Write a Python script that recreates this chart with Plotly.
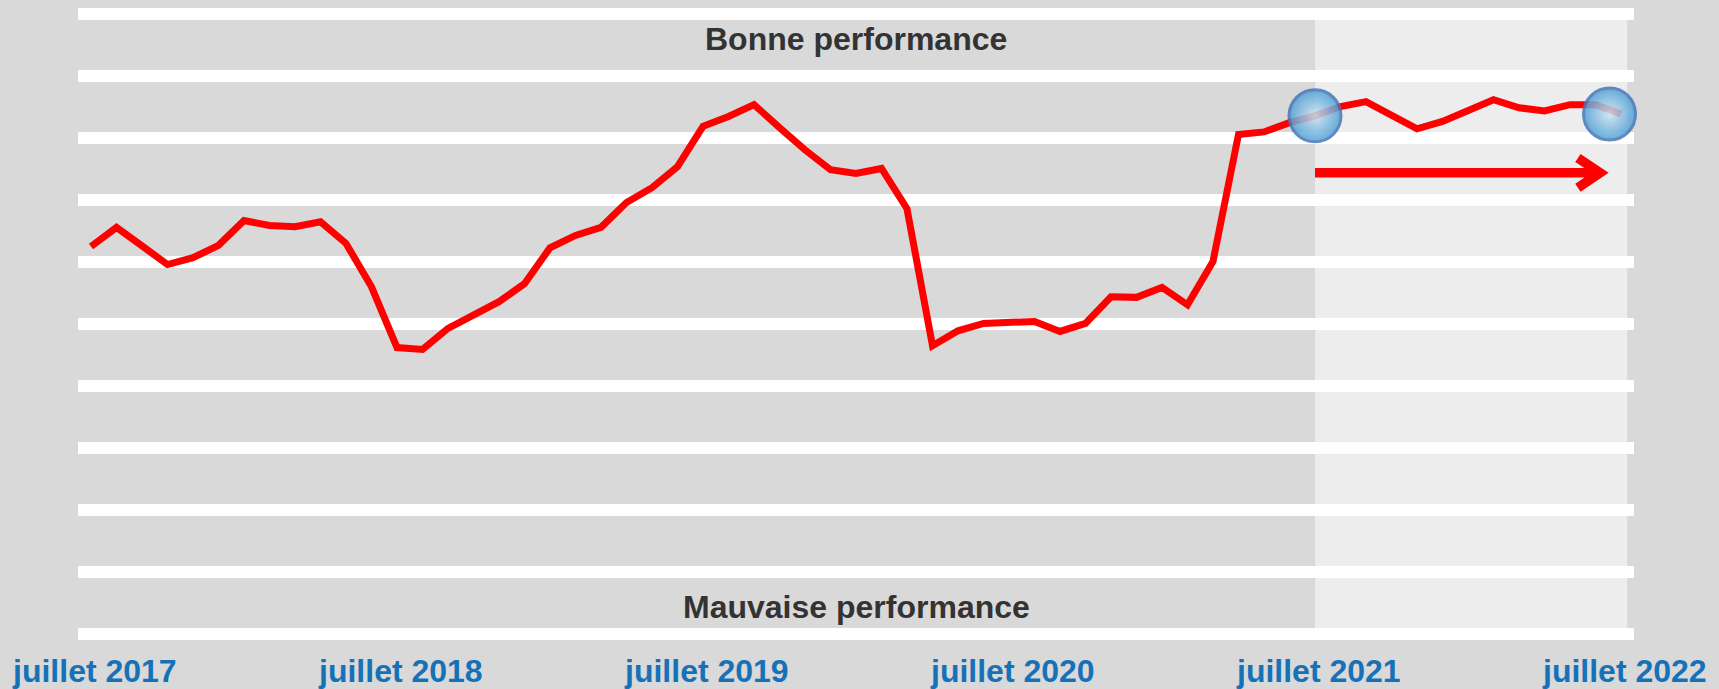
import plotly.graph_objects as go
import pandas as pd

# ---- data -------------------------------------------------------------
mois = [d.strftime("%Y-%m") for d in pd.date_range("2017-07-01", "2022-07-01", freq="MS")]

performance = [
    62.5, 65.6, 62.6, 59.6, 60.7, 62.7, 66.7, 65.9, 65.7, 66.5,
    63.0, 56.0, 46.2, 45.9, 49.3, 51.5, 53.6, 56.5, 62.3, 64.3,
    65.6, 69.6, 72.0, 75.4, 81.9, 83.5, 85.4, 81.7, 78.1, 74.9,
    74.3, 75.1, 68.6, 46.5, 48.9, 50.1, 50.2, 50.4, 48.8, 50.1,
    54.4, 54.3, 55.9, 53.1, 60.1, 80.6, 81.0, 82.5, 83.6, 85.1,
    85.9, 83.8, 81.5, 82.7, 84.6, 86.2, 84.9, 84.4, 85.4, 85.4,
    83.9,
]

tick_mois = ["2017-07", "2018-07", "2019-07", "2020-07", "2021-07", "2022-07"]
tick_labels = ["juillet 2017", "juillet 2018", "juillet 2019",
               "juillet 2020", "juillet 2021", "juillet 2022"]

# highlighted points (month position, value)
bulles_position = [48.0, 59.55]
bulles_valeur = [83.6, 83.9]

grille_y = [0, 10, 20, 30, 40, 50, 60, 70, 80, 90, 100]

zone_debut, zone_fin = "2021-07", "2022-07"
fleche_y = 74.4

texte_haut = "Bonne performance"
texte_bas = "Mauvaise performance"

# ---- derived positions (month index) -----------------------------------
x = list(range(len(mois)))
idx = {m: i for i, m in enumerate(mois)}
tick_x = [idx[m] + 0.15 for m in tick_mois]

BG = "#d9d9d9"
LIGHT = "#ededed"
RED = "#ff0000"
BLUE_TXT = "#1672b8"
DARK_TXT = "#333333"
FONT = "Liberation Sans"

fig = go.Figure()

fig.add_trace(go.Scatter(
    x=x, y=performance, mode="lines",
    line=dict(color=RED, width=7),
    text=mois, hoverinfo="text+y", showlegend=False,
))

fig.add_trace(go.Scatter(
    x=bulles_position, y=bulles_valeur, mode="markers",
    marker=dict(size=52, color="#4d9fd3", opacity=0.85,
                gradient=dict(type="radial", color="#cfe5f4"),
                line=dict(color="#4677b8", width=3)),
    cliponaxis=False, hoverinfo="skip", showlegend=False,
))

# light zone for the last year
fig.add_shape(type="rect", xref="x", yref="paper",
              x0=idx[zone_debut], x1=idx[zone_fin] + 0.24, y0=0, y1=1,
              fillcolor=LIGHT, line=dict(width=0), layer="below")

# arrow (shaft + chevron)
a0 = idx[zone_debut]
tip = idx[zone_fin] - 0.82
arm = tip - 0.87
fig.add_shape(type="path", xref="x", yref="y",
              path=(f"M {a0},{fleche_y} L {tip},{fleche_y} "
                    f"M {arm},{fleche_y + 2.4} L {tip},{fleche_y} L {arm},{fleche_y - 2.4}"),
              line=dict(color=RED, width=9.5), layer="above")

fig.add_annotation(x=30, y=96.0, xref="x", yref="y", text=texte_haut,
                   showarrow=False, yanchor="middle",
                   font=dict(family=FONT, size=32, color=DARK_TXT, weight="bold"))
fig.add_annotation(x=30, y=4.3, xref="x", yref="y", text=texte_bas,
                   showarrow=False, yanchor="middle",
                   font=dict(family=FONT, size=32, color=DARK_TXT, weight="bold"))

fig.update_layout(
    width=1719, height=689,
    margin=dict(l=78, r=85, t=8, b=49, autoexpand=False),
    paper_bgcolor=BG, plot_bgcolor=BG,
    xaxis=dict(range=[-0.51, 60.51], showgrid=False, zeroline=False,
               tickmode="array", tickvals=tick_x, ticktext=tick_labels,
               ticks="", ticklabelstandoff=9, automargin=False,
               tickfont=dict(family=FONT, size=32, color=BLUE_TXT, weight="bold"),
               showline=False, fixedrange=True),
    yaxis=dict(range=[-1, 101], tickmode="array", tickvals=grille_y,
               showticklabels=False, ticks="", gridcolor="white", gridwidth=11.5,
               zeroline=False, showline=False, automargin=False, fixedrange=True),
)

fig.write_html("out.html", config={"displayModeBar": False},
               post_script="document.body.style.margin='0';")
